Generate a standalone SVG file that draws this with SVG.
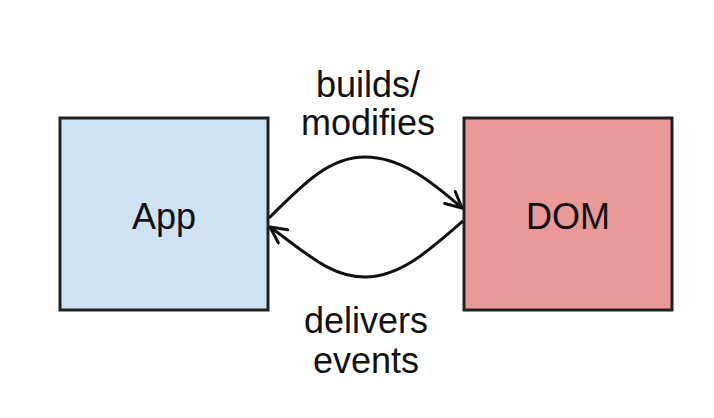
<svg xmlns="http://www.w3.org/2000/svg" width="714" height="418" viewBox="0 0 714 418">
<defs>
<marker id="open" viewBox="0 0 20 20" refX="18" refY="10" markerWidth="20" markerHeight="20" markerUnits="userSpaceOnUse" orient="auto">
<path d="M2,2 L18,10 L2,18" fill="none" stroke="#111" stroke-width="3" stroke-linecap="round" stroke-linejoin="round"/>
</marker>
<style>
.box{stroke:#222;stroke-width:3}
.lbl{font-family:"Liberation Sans",Arial,sans-serif;font-size:36px;fill:#111;text-anchor:middle}
.edge{fill:none;stroke:#111;stroke-width:3}
</style>
</defs>
<rect width="714" height="418" fill="#ffffff"/>
<g id="app">
<rect class="box" x="60" y="118" width="208" height="192" fill="#cfe2f3"/>
<text class="lbl" x="164" y="229">App</text>
</g>
<g id="dom">
<rect class="box" x="464" y="118" width="208" height="192" fill="#ea9999"/>
<text class="lbl" x="568" y="229">DOM</text>
</g>
<g id="connectors">
<path class="edge" d="M269,218 C305,182 330,157 365,157 C400,157 430,180 462,208" marker-end="url(#open)"/>
<path class="edge" d="M463,221 C430,250 400,277 365,277 C330,277 305,252 270,227" marker-end="url(#open)"/>
<text class="lbl" x="368" y="97">builds/</text>
<text class="lbl" x="368" y="135">modifies</text>
<text class="lbl" x="366" y="333">delivers</text>
<text class="lbl" x="366" y="373">events</text>
</g>
</svg>
